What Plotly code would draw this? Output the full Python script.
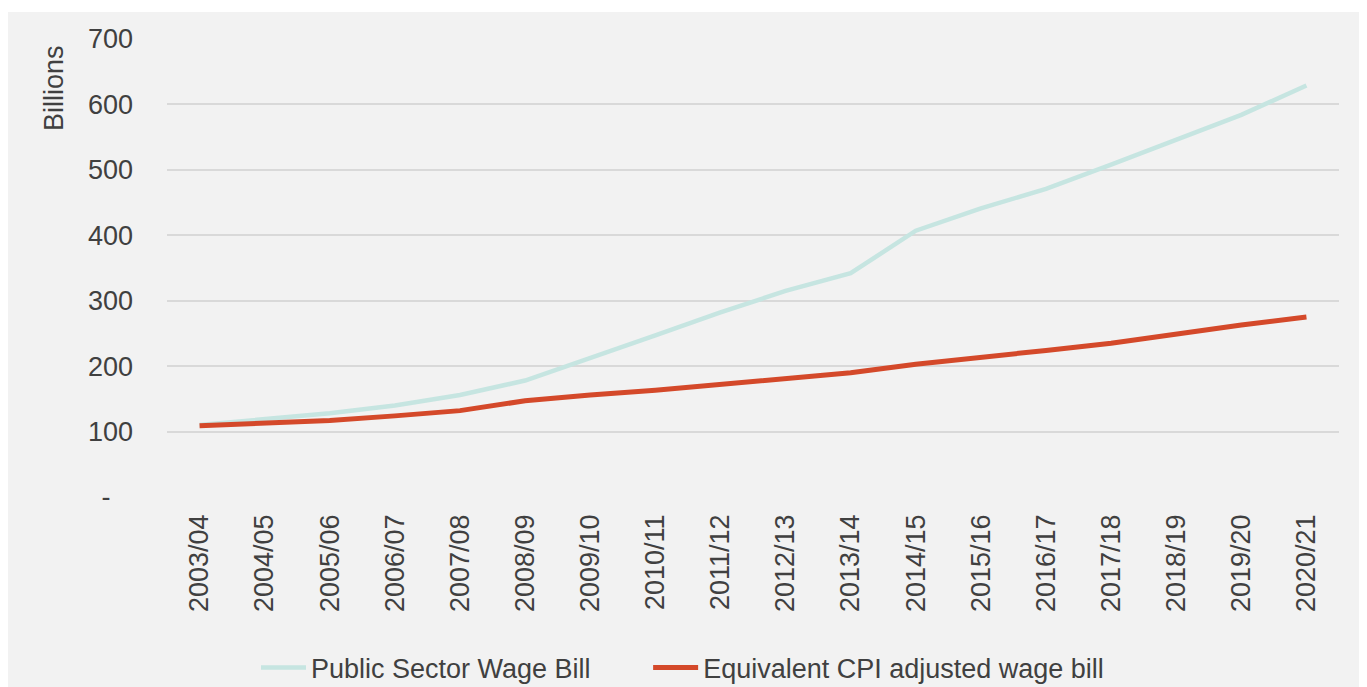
import plotly.graph_objects as go

years = ["2003/04", "2004/05", "2005/06", "2006/07", "2007/08", "2008/09", "2009/10",
         "2010/11", "2011/12", "2012/13", "2013/14", "2014/15", "2015/16", "2016/17",
         "2017/18", "2018/19", "2019/20", "2020/21"]
public_wage_bill = [110, 119, 128, 140, 156, 178, 212, 247, 282, 315, 342, 407, 441, 471,
                    508, 546, 584, 629]
cpi_adjusted = [109, 113, 117, 124, 132, 147, 156, 163, 172, 181, 190, 203, 213, 224,
                235, 249, 263, 275]
ytick_vals = [0, 100, 200, 300, 400, 500, 600, 700]
ytick_text = ["-\u00a0\u00a0\u00a0", "100", "200", "300", "400", "500", "600", "700"]

FONT = "Liberation Sans, Arial, sans-serif"
TXT = "#404040"

fig = go.Figure()
fig.add_trace(go.Scatter(x=years, y=public_wage_bill, mode="lines",
                         name="Public Sector Wage Bill" + "\u00a0" * 7,
                         line=dict(color="#c6e5e1", width=4.5)))
fig.add_trace(go.Scatter(x=years, y=cpi_adjusted, mode="lines",
                         name="Equivalent CPI adjusted wage bill",
                         line=dict(color="#d4492a", width=5)))

# page has an 8px body margin; coordinates below are in page pixels
OFF = 8
W, H = 1367 - OFF, 687 - OFF
L, R, T, B = 167 - OFF, 1367 - 1339, 39 - OFF, 687 - 497
pw, ph = W - L - R, H - T - B

def px_x(p):
    return (p - OFF - L) / pw

def px_y(p):
    return (H - B - (p - OFF)) / ph

fig.add_shape(type="rect", xref="paper", yref="paper",
              x0=px_x(8), x1=px_x(1363), y0=px_y(700), y1=px_y(12),
              fillcolor="#f2f2f2", line=dict(width=0), layer="below")

fig.add_annotation(text="Billions", xref="paper", yref="paper",
                   x=px_x(54), y=px_y(88), textangle=-90, showarrow=False,
                   font=dict(family=FONT, size=27, color=TXT),
                   xanchor="center", yanchor="middle")

fig.update_layout(
    width=W, height=H,
    margin=dict(l=L, r=R, t=T, b=B, autoexpand=False),
    paper_bgcolor="white",
    plot_bgcolor="rgba(0,0,0,0)",
    font=dict(family=FONT, size=27, color=TXT),
    showlegend=True,
    legend=dict(orientation="h", x=px_x(256), y=px_y(668), xanchor="left",
                yanchor="middle", bgcolor="rgba(0,0,0,0)",
                itemwidth=45,
                font=dict(family=FONT, size=27, color=TXT)),
    xaxis=dict(type="category", range=[-0.5, 17.5], tickangle=-90,
               showgrid=False, showline=False, zeroline=False,
               ticks="", ticklabelstandoff=11,
               tickfont=dict(family=FONT, size=27, color=TXT)),
    yaxis=dict(range=[0, 700], tickvals=ytick_vals, ticktext=ytick_text,
               showgrid=True, gridcolor="#d9d9d9", gridwidth=1.5,
               zeroline=False, showline=False, ticks="",
               ticklabelstandoff=33,
               tickfont=dict(family=FONT, size=27, color=TXT)),
)

fig.write_html("out.html")
